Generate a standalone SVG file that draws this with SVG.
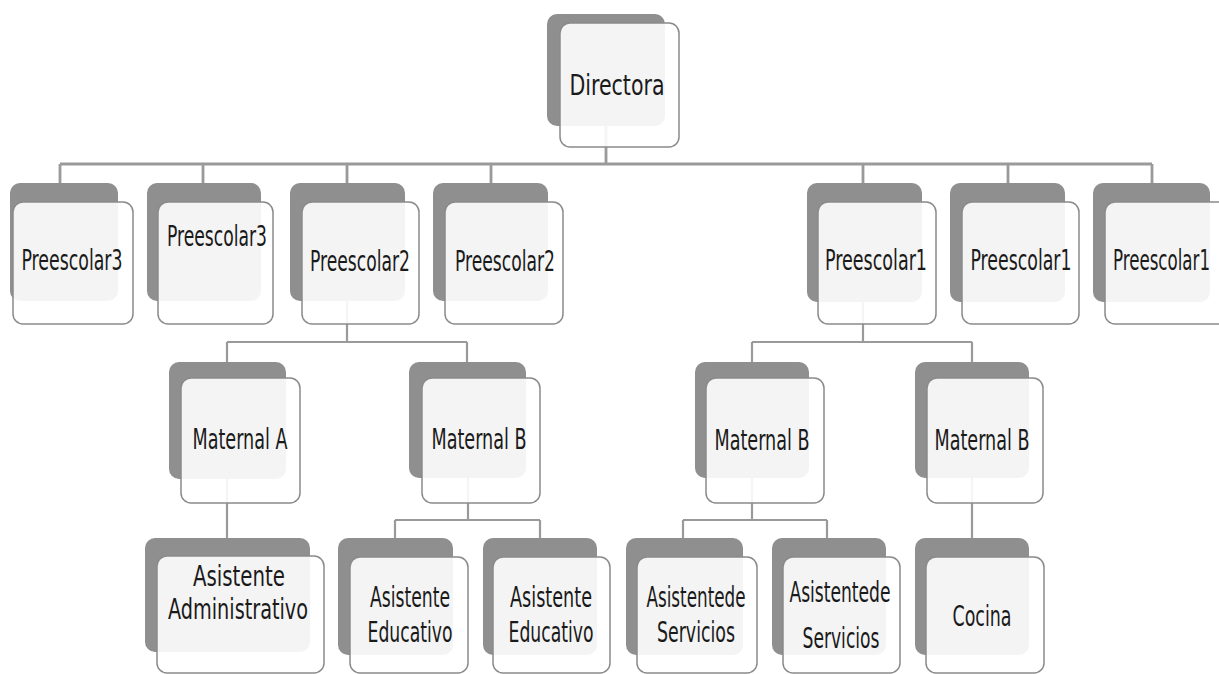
<svg xmlns="http://www.w3.org/2000/svg" width="1219" height="674" viewBox="0 0 1219 674">
<style>
.bk{fill:#8f8f8f}
.fr{fill:#ffffff;fill-opacity:0.9;stroke:#8a8a8a;stroke-width:1.5}
.t{font-family:"DejaVu Sans Condensed","DejaVu Sans","Liberation Sans",sans-serif;font-size:28px;fill:#1a1a1a;text-anchor:middle}
.c{fill:none;stroke:#9a9a9a;stroke-width:2.2}
</style>
<rect width="1219" height="674" fill="#ffffff"/>
<g id="connectors" class="c">
<path d="M606 126V164M60 164H1152M60 164V183M203 164V183M347 164V183M491 164V183M863 164V183M1008 164V183M1152 164V183" stroke-width="2.8"/>
<path d="M347 301V342M227 342H467M227 342V362M467 342V362"/>
<path d="M227 479V538"/>
<path d="M468 478V520M395 520H540M395 520V538M540 520V538"/>
<path d="M863 302V342M752 342H972M752 342V362M972 342V362"/>
<path d="M752 478V520M683 520H827M683 520V538M827 520V538"/>
<path d="M972 478V538"/>
</g>
<g id="n-directora"><rect class="bk" x="547" y="14" width="118" height="112" rx="10"/><rect class="fr" x="560" y="23" width="119" height="124" rx="10"/><text class="t" x="617" y="95" textLength="95" lengthAdjust="spacingAndGlyphs">Directora</text></g>
<g id="n-p3a"><rect class="bk" x="10" y="183" width="108" height="118" rx="10"/><rect class="fr" x="13" y="202" width="120" height="122" rx="10"/><text class="t" x="72" y="270" textLength="101" lengthAdjust="spacingAndGlyphs">Preescolar3</text></g>
<g id="n-p3b"><rect class="bk" x="147" y="183" width="114" height="118" rx="10"/><rect class="fr" x="158" y="202" width="115" height="122" rx="10"/><text class="t" x="217" y="246" textLength="100" lengthAdjust="spacingAndGlyphs">Preescolar3</text></g>
<g id="n-p2a"><rect class="bk" x="290" y="183" width="115" height="118" rx="10"/><rect class="fr" x="302" y="202" width="117" height="122" rx="10"/><text class="t" x="360" y="271" textLength="100" lengthAdjust="spacingAndGlyphs">Preescolar2</text></g>
<g id="n-p2b"><rect class="bk" x="433" y="183" width="115" height="118" rx="10"/><rect class="fr" x="445" y="202" width="118" height="122" rx="10"/><text class="t" x="505" y="271" textLength="100" lengthAdjust="spacingAndGlyphs">Preescolar2</text></g>
<g id="n-p1a"><rect class="bk" x="807" y="183" width="115" height="119" rx="10"/><rect class="fr" x="818" y="202" width="118" height="122" rx="10"/><text class="t" x="876" y="270" textLength="102" lengthAdjust="spacingAndGlyphs">Preescolar1</text></g>
<g id="n-p1b"><rect class="bk" x="950" y="183" width="115" height="119" rx="10"/><rect class="fr" x="962" y="202" width="117" height="122" rx="10"/><text class="t" x="1021" y="270" textLength="101" lengthAdjust="spacingAndGlyphs">Preescolar1</text></g>
<g id="n-p1c"><rect class="bk" x="1093" y="183" width="117" height="119" rx="10"/><path d="M1219 202H1115A10 10 0 0 0 1105 212V314A10 10 0 0 0 1115 324H1219Z" fill="#ffffff" fill-opacity="0.9"/><path d="M1219 202H1115A10 10 0 0 0 1105 212V314A10 10 0 0 0 1115 324H1219" fill="none" stroke="#8a8a8a" stroke-width="1.5"/><text class="t" x="1210" y="270" text-anchor="end" style="text-anchor:end" textLength="97" lengthAdjust="spacingAndGlyphs">Preescolar1</text></g>
<g id="n-ma"><rect class="bk" x="169" y="362" width="117" height="117" rx="10"/><rect class="fr" x="181" y="378" width="119" height="125" rx="10"/><text class="t" x="240" y="449" textLength="95" lengthAdjust="spacingAndGlyphs">Maternal A</text></g>
<g id="n-mb1"><rect class="bk" x="409" y="362" width="117" height="116" rx="10"/><rect class="fr" x="422" y="378" width="118" height="125" rx="10"/><text class="t" x="479" y="449" textLength="95" lengthAdjust="spacingAndGlyphs">Maternal B</text></g>
<g id="n-mb2"><rect class="bk" x="695" y="362" width="114" height="116" rx="10"/><rect class="fr" x="706" y="378" width="118" height="125" rx="10"/><text class="t" x="762" y="450" textLength="95" lengthAdjust="spacingAndGlyphs">Maternal B</text></g>
<g id="n-mb3"><rect class="bk" x="915" y="362" width="114" height="116" rx="10"/><rect class="fr" x="927" y="378" width="116" height="125" rx="10"/><text class="t" x="982" y="450" textLength="95" lengthAdjust="spacingAndGlyphs">Maternal B</text></g>
<g id="n-aadm"><rect class="bk" x="145" y="538" width="165" height="114" rx="10"/><rect class="fr" x="157" y="556" width="167" height="117" rx="10"/><text class="t" x="239" y="586" font-size="30" textLength="92" lengthAdjust="spacingAndGlyphs">Asistente</text><text class="t" x="238" y="619" font-size="30" textLength="140" lengthAdjust="spacingAndGlyphs">Administrativo</text></g>
<g id="n-aed1"><rect class="bk" x="338" y="538" width="115" height="117" rx="10"/><rect class="fr" x="350" y="557" width="118" height="116" rx="10"/><text class="t" x="410" y="607" textLength="80" lengthAdjust="spacingAndGlyphs">Asistente</text><text class="t" x="410" y="642" textLength="85" lengthAdjust="spacingAndGlyphs">Educativo</text></g>
<g id="n-aed2"><rect class="bk" x="483" y="538" width="114" height="117" rx="10"/><rect class="fr" x="493" y="557" width="117" height="116" rx="10"/><text class="t" x="551" y="607" textLength="82" lengthAdjust="spacingAndGlyphs">Asistente</text><text class="t" x="551" y="642" textLength="85" lengthAdjust="spacingAndGlyphs">Educativo</text></g>
<g id="n-aser1"><rect class="bk" x="626" y="538" width="117" height="117" rx="10"/><rect class="fr" x="637" y="557" width="120" height="116" rx="10"/><text class="t" x="696" y="607" textLength="99" lengthAdjust="spacingAndGlyphs">Asistentede</text><text class="t" x="696" y="642" textLength="78" lengthAdjust="spacingAndGlyphs">Servicios</text></g>
<g id="n-aser2"><rect class="bk" x="772" y="538" width="114" height="117" rx="10"/><rect class="fr" x="783" y="557" width="117" height="116" rx="10"/><text class="t" x="840" y="602" textLength="101" lengthAdjust="spacingAndGlyphs">Asistentede</text><text class="t" x="841" y="648" textLength="77" lengthAdjust="spacingAndGlyphs">Servicios</text></g>
<g id="n-cocina"><rect class="bk" x="915" y="538" width="114" height="117" rx="10"/><rect class="fr" x="926" y="557" width="118" height="116" rx="10"/><text class="t" x="982" y="626" textLength="59" lengthAdjust="spacingAndGlyphs">Cocina</text></g>
</svg>
